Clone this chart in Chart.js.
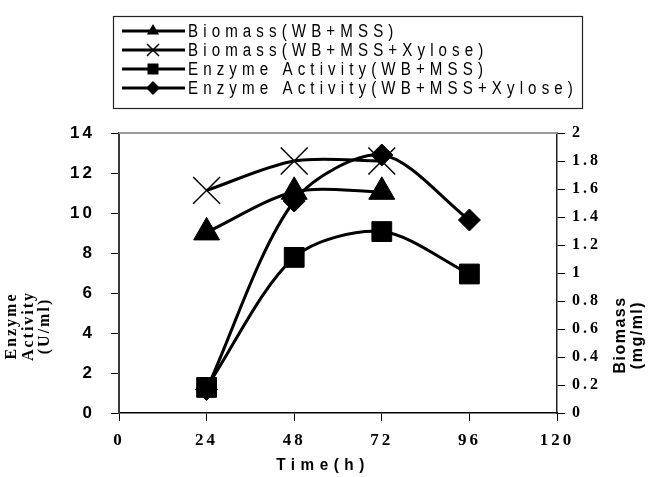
<!DOCTYPE html>
<html>
<head>
<meta charset="utf-8">
<script src="https://cdn.jsdelivr.net/npm/chart.js@4.4.0/dist/chart.umd.min.js"></script>
<style>
  html, body { margin: 0; padding: 0; background: #fff; }
  canvas { display: block; }
</style>
</head>
<body>
<canvas id="enzymeChart" width="650" height="477"></canvas>
<script>
// data
const hours = [24, 48, 72, 96];
const biomassWB = [1.29, 1.58, 1.58];
const biomassWBX = [1.59, 1.80, 1.80];
const enzymeWB = [1.28, 7.78, 9.07, 6.95];
const enzymeWBX = [1.18, 10.6, 12.9, 9.65];
const seriesLabels = ['Biomass(WB+MSS)', 'Biomass(WB+MSS+Xylose)', 'Enzyme Activity(WB+MSS)', 'Enzyme Activity(WB+MSS+Xylose)'];
const leftTitle = ['Enzyme', 'Activity', '(U/ml)'];
const rightTitle = ['Biomass', '(mg/ml)'];
const xTitle = 'Time(h)';

const SANS = "'Liberation Sans Narrow', 'Arial Narrow', 'Liberation Sans', sans-serif";
const SERIF = "'Liberation Serif', 'Times New Roman', serif";

function toPoints(vals) {
    return vals.map((v, i) => ({ x: hours[i], y: v }));
}

function drawMarker(ctx, style, x, y, r) {
    ctx.beginPath();
    if (style === 'triangle') {
        ctx.moveTo(x, y - r);
        ctx.lineTo(x + r * 0.866, y + r * 0.5);
        ctx.lineTo(x - r * 0.866, y + r * 0.5);
        ctx.closePath();
        ctx.fill();
    } else if (style === 'crossRot') {
        ctx.moveTo(x - r, y - r); ctx.lineTo(x + r, y + r);
        ctx.moveTo(x + r, y - r); ctx.lineTo(x - r, y + r);
        ctx.lineWidth = 1.5;
        ctx.stroke();
    } else if (style === 'rect') {
        ctx.rect(x - r, y - r, 2 * r, 2 * r);
        ctx.fill();
    } else {
        ctx.moveTo(x, y - r); ctx.lineTo(x + r, y);
        ctx.lineTo(x, y + r); ctx.lineTo(x - r, y);
        ctx.closePath();
        ctx.fill();
    }
}

// text with letter spacing and a horizontal squeeze (the source uses a narrow face)
function spacedText(ctx, txt, x, y, font, spacing, align, sx) {
    sx = sx || 1;
    ctx.save();
    ctx.translate(x, y);
    ctx.scale(sx, 1);
    ctx.font = font;
    ctx.letterSpacing = (spacing / sx) + 'px';
    ctx.textAlign = align || 'left';
    ctx.textBaseline = 'middle';
    ctx.fillText(txt, 0, 0);
    ctx.restore();
}

// legend, axis titles and top frame line
const decorations = {
    id: 'decorations',
    beforeDraw(chart) {
        chart.ctx.letterSpacing = '3px';
    },
    afterDraw(chart) {
        const ctx = chart.ctx;
        const area = chart.chartArea;
        ctx.save();
        ctx.letterSpacing = '0px';

        // top line of plot frame
        ctx.strokeStyle = '#9a9a9a';
        ctx.lineWidth = 2;
        ctx.beginPath();
        ctx.moveTo(area.left, area.top);
        ctx.lineTo(area.right, area.top);
        ctx.stroke();

        // legend box
        ctx.strokeStyle = '#222';
        ctx.lineWidth = 1.2;
        ctx.strokeRect(113.5, 16.5, 469, 92);

        const rowsY = [31, 50, 69, 88];
        const mr = [7, 6, 5.5, 7];
        chart.data.datasets.forEach((ds, i) => {
            const y = rowsY[i];
            ctx.strokeStyle = '#000';
            ctx.fillStyle = '#000';
            ctx.lineWidth = 3;
            ctx.beginPath();
            ctx.moveTo(122, y);
            ctx.lineTo(185, y);
            ctx.stroke();
            drawMarker(ctx, ds.pointStyle, 153, y, mr[i]);
            spacedText(ctx, ds.label, 188, y + 1, '18px ' + SANS, 5.1, 'left', 0.84);
        });

        ctx.fillStyle = '#000';
        // x title
        spacedText(ctx, xTitle, 323, 465, 'bold 17px ' + SANS, 5.5, 'center', 0.9);

        // left title (rotated, reads bottom to top)
        ctx.save();
        ctx.translate(0, 326);
        ctx.rotate(-Math.PI / 2);
        leftTitle.forEach((t, i) => {
            spacedText(ctx, t, 0, 12 + i * 16.5, 'bold 16px ' + SERIF, 2, 'center');
        });
        ctx.restore();

        // right title
        ctx.save();
        ctx.translate(0, 335);
        ctx.rotate(-Math.PI / 2);
        rightTitle.forEach((t, i) => {
            spacedText(ctx, t, 0, 621 + i * 17, 'bold 16px ' + SANS, 1.5, 'center');
        });
        ctx.restore();

        ctx.restore();
    }
};

const lineBase = {
    borderColor: '#000',
    backgroundColor: '#000',
    pointBorderColor: '#000',
    pointBackgroundColor: '#000',
    borderWidth: 3,
    tension: 0.3,
    fill: false
};

const config = {
    type: 'line',
    data: {
        datasets: [
            { ...lineBase, label: seriesLabels[0], data: toPoints(biomassWB), yAxisID: 'y1',
              pointStyle: 'triangle', pointRadius: 15, pointBorderWidth: 1 },
            { ...lineBase, label: seriesLabels[1], data: toPoints(biomassWBX), yAxisID: 'y1',
              pointStyle: 'crossRot', pointRadius: 19, pointBorderWidth: 1.5 },
            { ...lineBase, label: seriesLabels[2], data: toPoints(enzymeWB), yAxisID: 'y',
              pointStyle: 'rect', pointRadius: 14, pointBorderWidth: 1 },
            { ...lineBase, label: seriesLabels[3], data: toPoints(enzymeWBX), yAxisID: 'y',
              pointStyle: 'rectRot', pointRadius: 11, pointBorderWidth: 1 }
        ]
    },
    options: {
        responsive: false,
        animation: false,
        devicePixelRatio: 1,
        layout: { padding: { top: 133, left: 0, right: 0, bottom: 0 } },
        plugins: {
            legend: { display: false },
            title: { display: false },
            tooltip: { enabled: false }
        },
        scales: {
            x: {
                type: 'linear',
                min: 0,
                max: 120,
                afterFit: s => { s.height = 64; },
                ticks: {
                    stepSize: 24,
                    color: '#000',
                    padding: 9,
                    maxRotation: 0,
                    font: { family: SERIF, size: 17, weight: 'bold' }
                },
                grid: { drawOnChartArea: false, tickLength: 8, color: '#000', lineWidth: 1 },
                border: { color: '#000', width: 1.5 }
            },
            y: {
                position: 'left',
                min: 0,
                max: 14,
                afterFit: s => { s.width = 119; },
                ticks: {
                    stepSize: 2,
                    color: '#000',
                    padding: 16,
                    font: { family: SANS, size: 17, weight: 'bold' }
                },
                grid: { drawOnChartArea: false, tickLength: 8, color: '#000', lineWidth: 1 },
                border: { color: '#3a3a3a', width: 2 }
            },
            y1: {
                position: 'right',
                min: 0,
                max: 2,
                afterFit: s => { s.width = 93; },
                ticks: {
                    stepSize: 0.2,
                    color: '#000',
                    padding: 7,
                    font: { family: SERIF, size: 16, weight: 'bold' },
                    callback: v => String(+v.toFixed(1))
                },
                grid: { drawOnChartArea: false, tickLength: 8, color: '#000', lineWidth: 1 },
                border: { color: '#222', width: 1.5 }
            }
        }
    },
    plugins: [decorations]
};

const canvas = document.querySelector('#enzymeChart');
const chart = new Chart(canvas, config);
</script>
</body>
</html>
